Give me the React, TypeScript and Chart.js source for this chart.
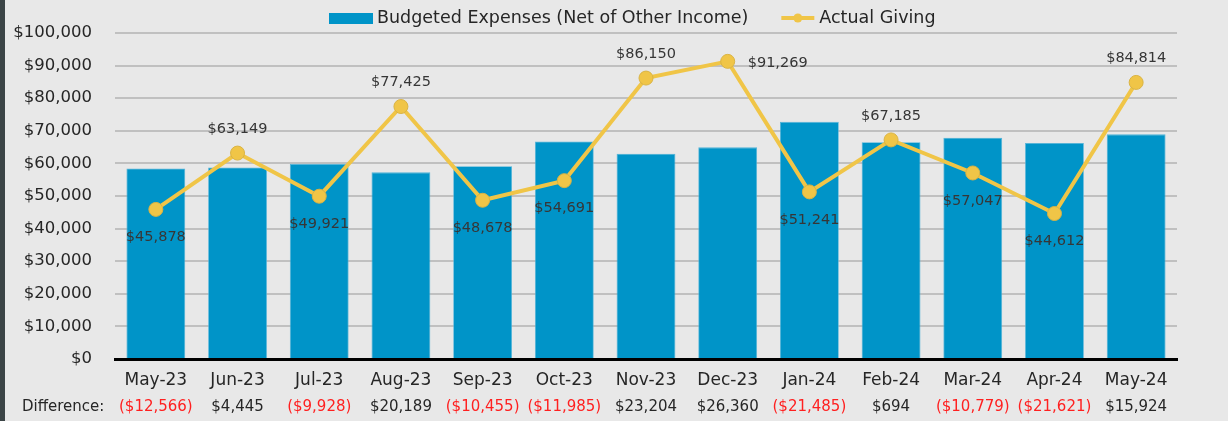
import React, { useEffect, useRef } from "react";
import { Chart, registerables } from "chart.js";

Chart.register(...registerables);

const months = ["May-23", "Jun-23", "Jul-23", "Aug-23", "Sep-23", "Oct-23", "Nov-23", "Dec-23", "Jan-24", "Feb-24", "Mar-24", "Apr-24", "May-24"];
const budgeted = [58444, 58704, 59849, 57236, 59133, 66676, 62946, 64909, 72726, 66491, 67826, 66233, 68890];
const actual = [45878, 63149, 49921, 77425, 48678, 54691, 86150, 91269, 51241, 67185, 57047, 44612, 84814];
const differences = [-12566, 4445, -9928, 20189, -10455, -11985, 23204, 26360, -21485, 694, -10779, -21621, 15924];
const labelPlacement = ["below", "above", "below", "above", "below", "below", "above", "right", "below", "above", "below", "below", "above"];
const yTicks = [0, 10000, 20000, 30000, 40000, 50000, 60000, 70000, 80000, 90000, 100000];

const BAR_COLOR = "#0094c8";
const LINE_COLOR = "#f0c547";
const FONT = "'DejaVu Sans', sans-serif";

const fmt = (v: number) => "$" + Math.abs(v).toLocaleString("en-US");
const fmtDiff = (v: number) => (v < 0 ? "(" + fmt(v) + ")" : fmt(v));

const overlayPlugin = {
  id: "overlay",
  afterDatasetsDraw(chart: any) {
    const ctx = chart.ctx;
    const meta = chart.getDatasetMeta(1);
    ctx.save();
    ctx.font = "14.5px " + FONT;
    ctx.fillStyle = "#363636";
    meta.data.forEach((pt: any, i: number) => {
      const txt = fmt(actual[i]);
      const pos = labelPlacement[i];
      ctx.textBaseline = "middle";
      if (pos === "right") {
        ctx.textAlign = "left";
        ctx.fillText(txt, pt.x + 20, pt.y + 2);
      } else if (pos === "above") {
        ctx.textAlign = "center";
        ctx.fillText(txt, pt.x, pt.y - 24);
      } else {
        ctx.textAlign = "center";
        ctx.fillText(txt, pt.x, pt.y + 28);
      }
    });
    ctx.restore();
  },
  afterDraw(chart: any) {
    const ctx = chart.ctx;
    const xScale = chart.scales.x;
    ctx.save();
    // Difference row
    ctx.font = "15px " + FONT;
    ctx.textBaseline = "middle";
    ctx.textAlign = "left";
    ctx.fillStyle = "#262626";
    ctx.fillText("Difference:", 22, 407);
    ctx.textAlign = "center";
    differences.forEach((d, i) => {
      ctx.fillStyle = d < 0 ? "#ff2020" : "#262626";
      ctx.fillText(fmtDiff(d), xScale.getPixelForValue(i), 407);
    });
    // Legend
    const ly = 18;
    ctx.font = "17.5px " + FONT;
    ctx.textAlign = "left";
    ctx.textBaseline = "middle";
    let x = 329;
    ctx.fillStyle = BAR_COLOR;
    ctx.fillRect(x, ly - 5, 44, 11);
    x += 48;
    const t1 = chart.data.datasets[0].label;
    ctx.fillStyle = "#262626";
    ctx.fillText(t1, x, ly);
    x += ctx.measureText(t1).width + 33;
    ctx.strokeStyle = LINE_COLOR;
    ctx.lineWidth = 4;
    ctx.beginPath();
    ctx.moveTo(x, ly);
    ctx.lineTo(x + 33, ly);
    ctx.stroke();
    ctx.fillStyle = LINE_COLOR;
    ctx.beginPath();
    ctx.arc(x + 16.5, ly, 4.5, 0, Math.PI * 2);
    ctx.fill();
    x += 38;
    ctx.fillStyle = "#262626";
    ctx.fillText(chart.data.datasets[1].label, x, ly);
    ctx.restore();
  },
};

export default function App() {
  const ref = useRef<HTMLCanvasElement | null>(null);
  useEffect(() => {
    document.body.style.margin = "0";
    const chart = new Chart(ref.current!, {
      type: "bar",
      data: {
        labels: months,
        datasets: [
          {
            type: "bar",
            label: "Budgeted Expenses (Net of Other Income)",
            data: budgeted,
            backgroundColor: BAR_COLOR,
            borderColor: "#4fb3d9",
            borderWidth: 0.8,
            barPercentage: 0.72,
            categoryPercentage: 1,
            order: 2,
          },
          {
            type: "line",
            label: "Actual Giving",
            data: actual,
            borderColor: LINE_COLOR,
            borderWidth: 4,
            backgroundColor: LINE_COLOR,
            pointBackgroundColor: LINE_COLOR,
            pointBorderColor: "#d9b344",
            pointBorderWidth: 1,
            pointRadius: 7,
            tension: 0,
            order: 1,
          } as any,
        ],
      },
      options: {
        responsive: false,
        animation: false,
        layout: { padding: { top: 32, right: 51, left: 0, bottom: 0 } },
        plugins: { legend: { display: false }, tooltip: { enabled: false } },
        scales: {
          x: {
            grid: { display: false, drawTicks: false },
            border: { display: true, color: "#000", width: 3 },
            ticks: { color: "#262626", font: { family: FONT, size: 17 }, padding: 11, maxRotation: 0, autoSkip: false },
            afterFit: (s: any) => { s.height = 62; },
          },
          y: {
            min: 0,
            max: 100000,
            afterBuildTicks: (s: any) => { s.ticks = yTicks.map((v) => ({ value: v })); },
            grid: { color: "#c0c0c0", lineWidth: 2, drawTicks: false },
            border: { display: false },
            ticks: { color: "#262626", font: { family: FONT, size: 16.5 }, padding: 23, callback: (v: any) => fmt(Number(v)) },
            afterFit: (s: any) => { s.width = 115; },
          },
        },
      },
      plugins: [overlayPlugin],
    });
    return () => chart.destroy();
  }, []);
  return (
    <div style={{ position: "relative", width: 1228, height: 421, background: "#e8e8e8", overflow: "hidden" }}>
      <canvas ref={ref} width={1228} height={421} style={{ display: "block" }} />
      <div style={{ position: "absolute", left: 0, top: 0, width: 5, height: 421, background: "#3b4446" }} />
    </div>
  );
}
